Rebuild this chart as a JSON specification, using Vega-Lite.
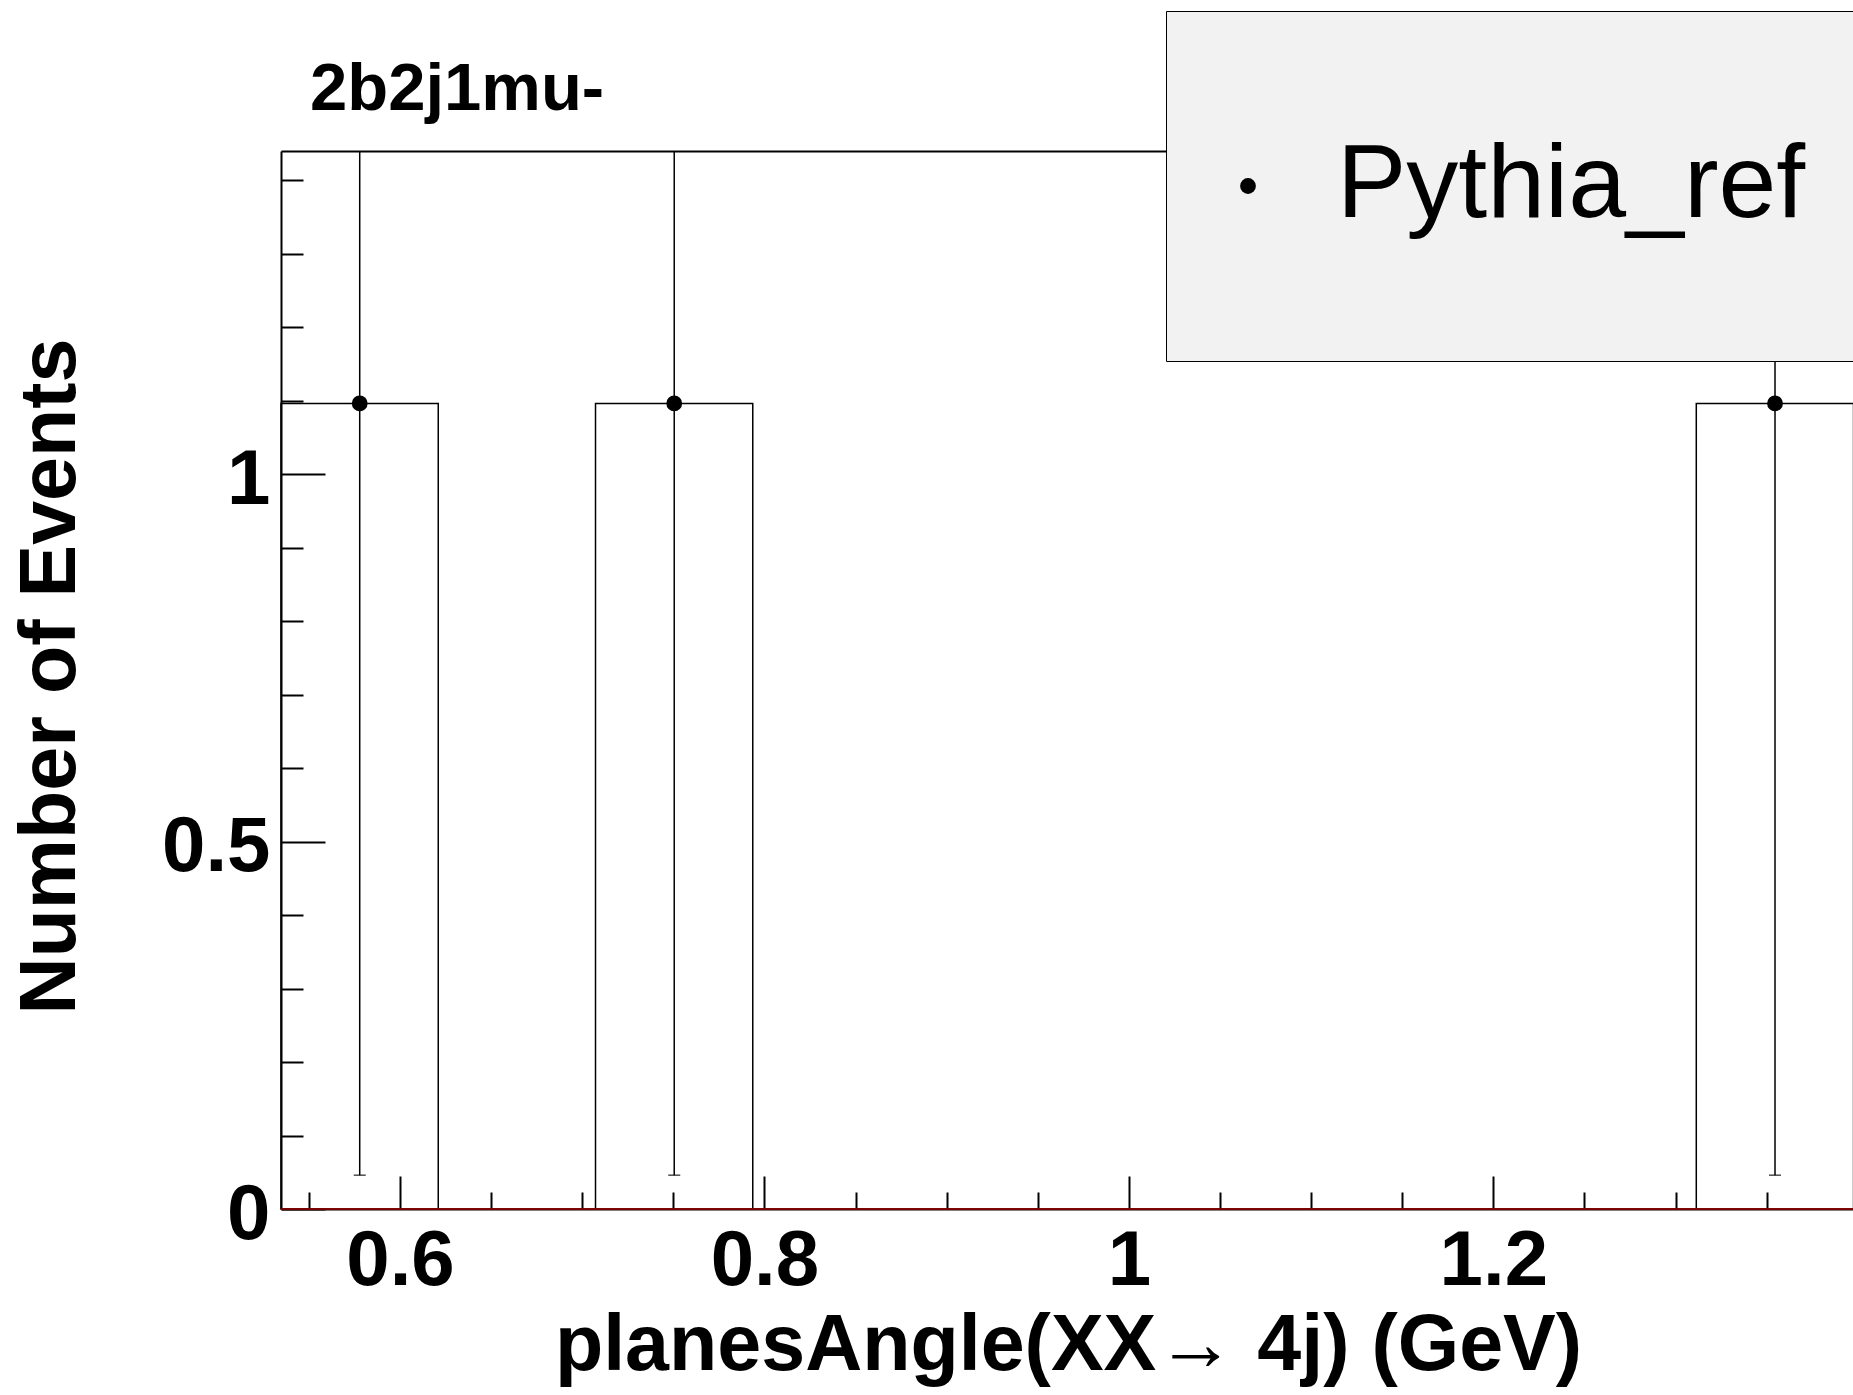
{
  "$schema": "https://vega.github.io/schema/vega-lite/v6.json",
  "width": 1572,
  "height": 1058,
  "autosize": {"type": "none"},
  "padding": {"left": 281, "top": 151, "right": 0, "bottom": 186},
  "background": "white",
  "config": {"view": {"stroke": null}, "font": "Liberation Sans"},
  "title": {
    "text": "2b2j1mu-",
    "anchor": "start",
    "frame": "group",
    "font": "Liberation Sans",
    "fontWeight": "bold",
    "fontSize": 67,
    "color": "black",
    "baseline": "alphabetic",
    "offset": 43,
    "dx": 29,
    "dy": 209
  },
  "datasets": {
    "bins": [
      {"series": "Pythia_ref", "lo": 0.5347, "hi": 0.6210, "center": 0.5779, "events": 1.096, "err_lo": 0.046, "err_hi": 2.146},
      {"series": "Pythia_ref", "lo": 0.6210, "hi": 0.7073, "center": 0.6642, "events": 0, "err_lo": null, "err_hi": null},
      {"series": "Pythia_ref", "lo": 0.7073, "hi": 0.7936, "center": 0.7505, "events": 1.096, "err_lo": 0.046, "err_hi": 2.146},
      {"series": "Pythia_ref", "lo": 0.7936, "hi": 0.8799, "center": 0.8368, "events": 0, "err_lo": null, "err_hi": null},
      {"series": "Pythia_ref", "lo": 0.8799, "hi": 0.9662, "center": 0.9231, "events": 0, "err_lo": null, "err_hi": null},
      {"series": "Pythia_ref", "lo": 0.9662, "hi": 1.0525, "center": 1.0094, "events": 0, "err_lo": null, "err_hi": null},
      {"series": "Pythia_ref", "lo": 1.0525, "hi": 1.1388, "center": 1.0957, "events": 0, "err_lo": null, "err_hi": null},
      {"series": "Pythia_ref", "lo": 1.1388, "hi": 1.2251, "center": 1.1820, "events": 0, "err_lo": null, "err_hi": null},
      {"series": "Pythia_ref", "lo": 1.2251, "hi": 1.3114, "center": 1.2683, "events": 0, "err_lo": null, "err_hi": null},
      {"series": "Pythia_ref", "lo": 1.3114, "hi": 1.3977, "center": 1.3546, "events": 1.096, "err_lo": 0.046, "err_hi": 2.146}
    ]
  },
  "resolve": {"axis": {"x": "independent", "y": "independent"}},
  "layer": [
    {
      "data": {"name": "bins"},
      "mark": {"type": "rect", "filled": false, "stroke": "black", "strokeWidth": 1.5},
      "encoding": {
        "x": {
          "field": "lo", "type": "quantitative",
          "scale": {"domain": [0.5347, 1.3974], "nice": false, "zero": false},
          "axis": {
            "orient": "bottom", "values": [0.6, 0.8, 1, 1.2], "format": "~g",
            "grid": false, "domain": true, "domainColor": "black", "domainWidth": 2,
            "ticks": true, "tickSize": -33, "tickColor": "black", "tickWidth": 2,
            "labelFont": "Liberation Sans", "labelFontWeight": "bold", "labelFontSize": 78, "labelColor": "black",
            "labelPadding": 46, "labelBaseline": "top", "labelAlign": "center", "labelFlush": false, "labelOverlap": false,
            "title": "planesAngle(XX→ 4j) (GeV)", "titleFont": "Liberation Sans", "titleFontWeight": "bold",
            "titleFontSize": 79, "titleColor": "black", "titleX": 787, "titleY": 160,
            "titleAlign": "center", "titleBaseline": "alphabetic", "titleAngle": 0
          }
        },
        "x2": {"field": "hi"},
        "y": {
          "field": "events", "type": "quantitative",
          "scale": {"domain": [0, 1.4395], "nice": false, "zero": true},
          "axis": {
            "orient": "left", "values": [0, 0.5, 1], "format": "~g",
            "grid": false, "domain": true, "domainColor": "black", "domainWidth": 2,
            "ticks": true, "tickSize": -44, "tickColor": "black", "tickWidth": 2,
            "labelFont": "Liberation Sans", "labelFontWeight": "bold", "labelFontSize": 78, "labelColor": "black",
            "labelPadding": 55, "labelBaseline": "middle", "labelAlign": "right", "labelFlush": false, "labelOverlap": false,
            "labelOffset": 6,
            "title": "Number of Events", "titleFont": "Liberation Sans", "titleFontWeight": "bold",
            "titleFontSize": 79, "titleColor": "black", "titleAngle": -90, "titleX": -207, "titleY": 525,
            "titleAlign": "center", "titleBaseline": "alphabetic"
          }
        },
        "y2": {"datum": 0}
      }
    },
    {
      "data": {"name": "bins"},
      "transform": [{"filter": "datum.events > 0"}],
      "mark": {"type": "rule", "stroke": "black", "strokeWidth": 1.5, "clip": true},
      "encoding": {
        "x": {
          "field": "center", "type": "quantitative",
          "axis": {
            "orient": "bottom", "values": [0.55, 0.65, 0.7, 0.75, 0.85, 0.9, 0.95, 1.05, 1.1, 1.15, 1.25, 1.3, 1.35],
            "labels": false, "grid": false, "domain": false, "title": null,
            "ticks": true, "tickSize": -17, "tickColor": "black", "tickWidth": 2
          }
        },
        "y": {
          "field": "err_lo", "type": "quantitative",
          "axis": {
            "orient": "left", "values": [0.1, 0.2, 0.3, 0.4, 0.6, 0.7, 0.8, 0.9, 1.1, 1.2, 1.3, 1.4],
            "labels": false, "grid": false, "domain": false, "title": null,
            "ticks": true, "tickSize": -22, "tickColor": "black", "tickWidth": 2
          }
        },
        "y2": {"field": "err_hi"}
      }
    },
    {
      "data": {"name": "bins"},
      "transform": [{"filter": "datum.events > 0"}],
      "mark": {"type": "tick", "orient": "horizontal", "size": 12, "thickness": 1.5, "color": "black"},
      "encoding": {
        "x": {"field": "center", "type": "quantitative", "axis": null},
        "y": {"field": "err_lo", "type": "quantitative", "axis": null}
      }
    },
    {
      "data": {"values": [{}]},
      "mark": {"type": "rule", "color": "#a00000", "strokeWidth": 1.5},
      "encoding": {
        "y": {"datum": 0, "type": "quantitative", "axis": null}
      }
    },
    {
      "data": {"name": "bins"},
      "transform": [{"filter": "datum.events > 0"}],
      "mark": {"type": "point", "filled": true, "size": 250, "opacity": 1},
      "encoding": {
        "x": {
          "field": "center", "type": "quantitative",
          "axis": {
            "orient": "top", "labels": false, "ticks": false, "grid": false, "title": null,
            "domain": true, "domainColor": "black", "domainWidth": 2
          }
        },
        "y": {"field": "events", "type": "quantitative", "axis": null},
        "color": {
          "field": "series", "type": "nominal",
          "scale": {"range": ["black"]},
          "legend": {
            "orient": "none", "legendX": 885, "legendY": -140, "title": null,
            "padding": 123, "fillColor": "#f2f2f2", "strokeColor": "black", "cornerRadius": 0,
            "symbolType": "circle", "symbolSize": 250, "symbolFillColor": "black", "symbolStrokeWidth": 0,
            "symbolOffset": -93, "labelOffset": 37,
            "labelFont": "Liberation Sans", "labelFontSize": 104, "labelColor": "black",
            "labelLimit": 2000, "labelBaseline": "middle"
          }
        }
      }
    }
  ]
}
